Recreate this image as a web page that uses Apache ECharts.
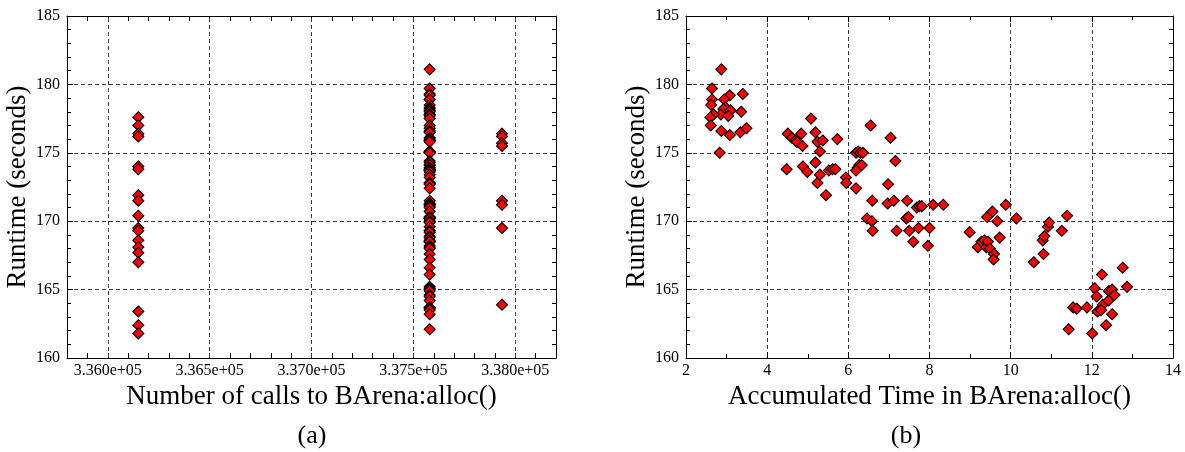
<!DOCTYPE html>
<html>
<head>
<meta charset="utf-8">
<script src="https://cdn.jsdelivr.net/npm/echarts@6/dist/echarts.min.js"></script>
<style>
html,body{margin:0;padding:0;background:#fff;}
#chart{width:1185px;height:452px;}
</style>
</head>
<body>
<div id="chart"></div>
<script>
// ---- Data: left panel (a) ----
const callsValues = [336150, 337580, 337935];
const runtimeCalls1 = [177.6, 177.0, 176.4, 176.2, 174.0, 173.8, 171.9, 171.5, 170.4, 169.5, 169.3, 168.6, 168.1, 167.7, 167.0, 163.4, 162.4, 161.8];
const runtimeCalls2 = [181.1,
  179.7, 179.3, 179.2,
  178.9, 178.9, 178.5, 178.3, 178.2, 178.1, 178.0,
  177.8, 177.8, 177.7, 177.5, 177.0,
  176.8, 176.6, 176.5, 176.5, 176.1,
  176.0, 175.9, 175.9, 175.8,
  175.1, 175.1, 175.0, 175.0, 175.0, 175.0,
  174.4, 174.3, 174.1, 174.1,
  173.9, 173.8, 173.8, 173.7, 173.7, 173.6, 173.4, 173.2,
  172.8, 172.8, 172.7, 172.4,
  171.5, 171.3, 171.2, 171.2, 171.1, 171.0,
  170.7, 170.3, 170.3, 170.2, 170.2, 170.2, 170.0, 170.0,
  169.9, 169.6, 169.3, 169.3, 169.2,
  168.9, 168.8, 168.6, 168.5, 168.5, 168.5, 168.2, 168.1, 168.0,
  167.6, 167.2,
  166.6, 166.1,
  165.2, 165.1, 165.0,
  164.9, 164.6, 164.5, 164.2,
  163.7, 163.7, 163.6, 163.5, 163.2,
  162.1];
const runtimeCalls3 = [176.4, 176.2, 175.7, 175.5, 171.5, 171.2, 169.5, 163.9];
const callsGridValues = [336000, 336500, 337000, 337500, 338000];

// ---- Data: right panel (b) ----
const accTime = [
  2.87, 2.64, 2.64, 3.08, 3.40, 2.62, 2.94, 2.98, 2.92, 3.10, 2.86, 3.04, 2.68, 2.60, 3.36, 2.61, 2.87, 3.08, 3.34, 3.49, 2.83,
  4.48, 4.51, 4.61, 4.70, 4.73, 4.84, 4.87, 4.88, 4.99, 5.08, 5.19, 5.19, 5.24, 5.30, 5.24, 5.30, 5.37, 5.45, 5.52, 5.61, 5.68, 5.73,
  5.94, 5.95, 6.19, 6.24, 6.30, 6.36, 6.23, 6.27, 6.33, 6.19, 6.19, 6.55, 6.46, 6.58, 6.59, 6.60,
  7.04, 6.98, 6.97, 7.12, 7.16, 7.19, 7.45, 7.43, 7.48, 7.50, 7.60, 7.69, 7.75, 7.81, 7.73, 7.96, 8.00, 8.09, 8.34,
  8.99, 9.19, 9.28, 9.35, 9.40, 9.44, 9.42, 9.55, 9.49, 9.59, 9.58, 9.67, 9.73, 9.88, 10.14,
  10.57, 10.79, 10.83, 10.81, 10.92, 10.95, 11.26, 11.39,
  11.43, 11.54, 11.63, 11.88, 12.01, 12.07, 12.12, 12.14, 12.25, 12.27, 12.23, 12.35, 12.41, 12.42, 12.50, 12.50, 12.56, 12.76, 12.87];
const accRuntime = [
  181.1, 179.7, 178.9, 179.2, 179.3, 178.5, 178.9, 178.3, 178.2, 178.1, 177.8, 177.7, 177.8, 177.6, 178.0, 177.0, 176.6, 176.3, 176.5, 176.8, 175.0,
  173.8, 176.4, 176.1, 175.9, 175.8, 176.4, 175.5, 174.0, 173.6, 177.5, 176.5, 174.3, 175.8, 175.1, 172.8, 173.4, 175.9, 171.9, 173.7, 173.8, 173.8, 176.0,
  173.2, 172.8, 175.0, 175.1, 175.0, 175.0, 173.9, 174.1, 174.1, 173.7, 172.4, 177.0, 170.2, 170.0, 171.5, 169.3,
  176.1, 172.7, 171.3, 171.5, 174.4, 169.3, 171.5, 170.2, 170.3, 169.3, 168.5, 171.0, 171.1, 171.1, 169.5, 168.2, 169.5, 171.2, 171.2,
  169.2, 168.1, 168.5, 168.6, 168.1, 168.5, 170.3, 170.7, 168.0, 167.6, 167.2, 170.0, 168.8, 171.2, 170.2,
  167.0, 168.6, 168.9, 167.6, 169.6, 169.9, 169.3, 170.4,
  162.1, 163.7, 163.6, 163.7, 161.8, 165.1, 164.5, 163.4, 166.1, 163.9, 163.5, 162.4, 164.2, 164.9, 165.0, 163.2, 164.6, 166.6, 165.2];

const xLabelA = 'Number of calls to BArena:alloc()';
const xLabelB = 'Accumulated Time in BArena:alloc()';
const yLabel = 'Runtime (seconds)';

// ---- Build ----
const FONT = '"Liberation Serif", "Times New Roman", serif';
const black = '#000';
const gridLine = {show: true, lineStyle: {color: '#3a3a3a', width: 1, type: [4, 3]}};

function pts(xs, ys) { return ys.map((y, i) => [xs[i], y]); }
const colA = [].concat(
  runtimeCalls1.map(v => [callsValues[0], v]),
  runtimeCalls2.map(v => [callsValues[1], v]),
  runtimeCalls3.map(v => [callsValues[2], v]));
const colB = pts(accTime, accRuntime);

const symbolStyle = {
  type: 'scatter', symbol: 'diamond', symbolSize: 11,
  itemStyle: {color: '#ff0000', borderColor: '#000', borderWidth: 1.1, opacity: 1},
  z: 5, silent: true
};

function yAxisMain(gi, name) {
  return {
    gridIndex: gi, type: 'value', min: 160, max: 185, interval: 5, position: 'left',
    axisLine: {show: true, lineStyle: {color: black, width: 1}},
    axisTick: {show: true, inside: true, length: 6, lineStyle: {color: black}},
    minorTick: {show: true, splitNumber: 5, length: 4, lineStyle: {color: black}},
    splitLine: gridLine,
    axisLabel: {color: black, fontFamily: FONT, fontSize: 16, margin: 7},
    name: name, nameLocation: 'middle', nameGap: 36,
    nameTextStyle: {color: black, fontFamily: FONT, fontSize: 27}
  };
}
function yAxisMirror(gi) {
  return {
    gridIndex: gi, type: 'value', min: 160, max: 185, interval: 5, position: 'right',
    axisLine: {show: true, lineStyle: {color: black}},
    axisTick: {show: true, inside: true, length: 6, lineStyle: {color: black}},
    minorTick: {show: true, splitNumber: 5, length: 4, lineStyle: {color: black}},
    splitLine: {show: false}, axisLabel: {show: false}
  };
}

const option = {
  animation: false,
  backgroundColor: '#fff',
  grid: [
    {left: 67, top: 16, width: 489, height: 342, show: false},
    {left: 686, top: 16, width: 487, height: 342, show: false}
  ],
  xAxis: [
    {
      gridIndex: 0, type: 'value', min: 335800, max: 338200, interval: 100, position: 'bottom',
      axisLine: {show: true, lineStyle: {color: black}},
      axisTick: {show: true, inside: true, length: 5, lineStyle: {color: black}},
      splitLine: {show: false},
      axisLabel: {
        color: black, fontFamily: FONT, fontSize: 16, margin: 5,
        formatter: v => (Math.round(v) % 500 === 0 ? (v / 1e5).toFixed(3) + 'e+05' : '')
      },
      name: xLabelA, nameLocation: 'middle', nameGap: 22,
      nameTextStyle: {color: black, fontFamily: FONT, fontSize: 27}
    },
    {
      gridIndex: 0, type: 'value', min: 335800, max: 338200, interval: 100, position: 'top',
      axisLine: {show: true, lineStyle: {color: black}},
      axisTick: {show: true, inside: true, length: 5, lineStyle: {color: black}},
      splitLine: {show: false}, axisLabel: {show: false}
    },
    {
      gridIndex: 1, type: 'value', min: 2, max: 14, interval: 2, position: 'bottom',
      axisLine: {show: true, lineStyle: {color: black}},
      axisTick: {show: true, inside: true, length: 6, lineStyle: {color: black}},
      minorTick: {show: true, splitNumber: 2, length: 4, lineStyle: {color: black}},
      splitLine: gridLine,
      axisLabel: {color: black, fontFamily: FONT, fontSize: 16, margin: 5},
      name: xLabelB, nameLocation: 'middle', nameGap: 22,
      nameTextStyle: {color: black, fontFamily: FONT, fontSize: 27}
    },
    {
      gridIndex: 1, type: 'value', min: 2, max: 14, interval: 2, position: 'top',
      axisLine: {show: true, lineStyle: {color: black}},
      axisTick: {show: true, inside: true, length: 6, lineStyle: {color: black}},
      minorTick: {show: true, splitNumber: 2, length: 4, lineStyle: {color: black}},
      splitLine: {show: false}, axisLabel: {show: false}
    }
  ],
  yAxis: [yAxisMain(0, yLabel), yAxisMirror(0), yAxisMain(1, yLabel), yAxisMirror(1)],
  series: [
    {
      type: 'line', xAxisIndex: 0, yAxisIndex: 0, data: [], z: 1, silent: true,
      markLine: {
        silent: true, symbol: ['none', 'none'], animation: false,
        label: {show: false},
        lineStyle: {color: '#3a3a3a', width: 1, type: [4, 3]},
        emphasis: {disabled: true},
        data: callsGridValues.map(v => ({xAxis: v}))
      }
    },
    Object.assign({}, symbolStyle, {xAxisIndex: 0, yAxisIndex: 0, data: colA}),
    Object.assign({}, symbolStyle, {xAxisIndex: 2, yAxisIndex: 2, data: colB})
  ],
  graphic: [
    {type: 'text', style: {text: '(a)', x: 312, y: 436, textAlign: 'center', textVerticalAlign: 'middle', font: '26px ' + FONT, fill: black}},
    {type: 'text', style: {text: '(b)', x: 906, y: 436, textAlign: 'center', textVerticalAlign: 'middle', font: '26px ' + FONT, fill: black}}
  ]
};

const chart = echarts.init(document.getElementById('chart'), null, {renderer: 'canvas'});
chart.setOption(option);
</script>
</body>
</html>
